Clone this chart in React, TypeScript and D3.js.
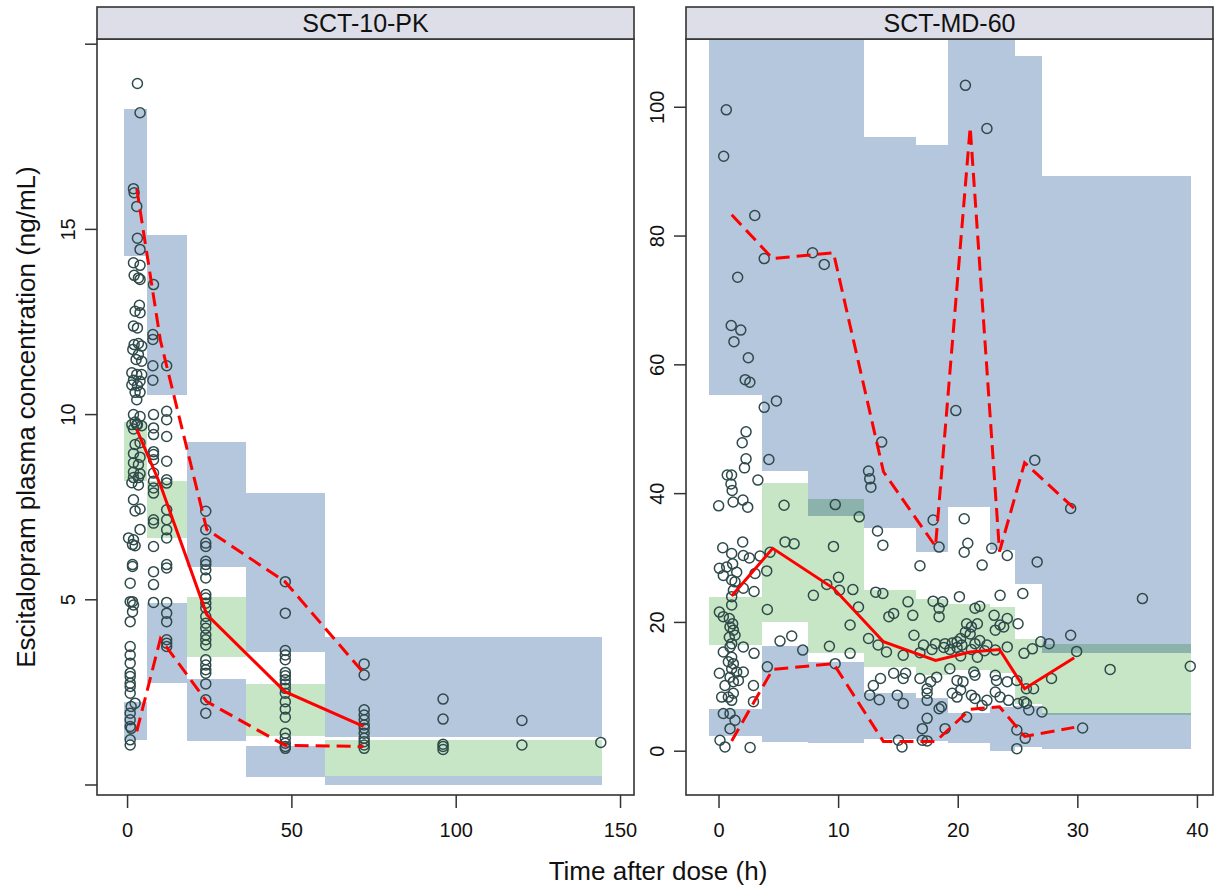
import React from 'react'
import * as d3 from 'd3'

type Pt = [number, number]

// ---------- SCT-10-PK : observations [time (h), conc (ng/mL)] ----------
const obsPK: Pt[] = [
  [3.0, 18.94], [3.8, 18.15], [1.8, 16.1], [2.0, 15.99], [2.8, 15.62], [3.0, 14.76], [3.8, 14.46],
  [1.8, 14.1], [3.8, 14.03], [2.0, 13.76], [3.3, 13.69], [3.8, 13.65], [3.6, 12.95], [2.3, 12.79],
  [3.8, 12.75], [1.8, 12.39], [3.0, 12.34], [2.0, 11.89], [3.3, 11.92], [4.3, 11.85], [1.6, 11.76],
  [3.3, 11.62], [2.6, 11.49], [4.3, 11.44], [1.3, 11.13], [2.8, 11.08], [4.3, 11.08], [1.8, 10.93],
  [3.8, 10.9], [1.3, 10.8], [3.0, 10.78], [2.3, 10.6], [3.8, 10.6], [2.8, 10.4], [1.8, 10.0],
  [3.8, 9.95], [2.3, 9.8], [3.0, 9.73], [1.3, 9.73], [2.8, 9.73], [4.3, 9.7], [1.8, 9.61],
  [2.3, 9.19], [3.8, 9.24], [1.8, 8.95], [3.8, 8.85], [1.8, 8.7], [3.3, 8.65], [1.8, 8.45],
  [3.8, 8.4], [1.8, 8.3], [3.3, 8.3], [1.3, 8.16], [3.3, 8.1], [1.8, 7.7], [3.8, 7.45], [2.3, 7.4],
  [3.8, 6.9], [0.3, 6.67], [1.8, 6.62], [1.5, 6.49], [2.3, 6.46], [1.5, 5.95], [1.5, 5.9], [0.8, 5.45],
  [0.8, 4.95], [1.5, 4.95], [1.8, 4.86], [1.5, 4.68], [0.8, 4.41],
  [0.8, 3.74], [0.8, 3.51], [0.8, 3.29], [0.8, 3.02], [0.8, 2.93], [0.8, 2.75], [0.8, 2.66],
  [0.8, 2.48], [2.3, 2.21], [1.1, 2.12], [0.8, 1.94], [0.8, 1.76], [0.8, 1.58], [1.1, 1.53],
  [0.8, 1.22], [0.8, 1.08],
  [7.9, 13.51], [7.7, 12.16], [7.7, 12.03], [7.7, 11.32], [11.9, 11.32], [7.7, 10.93], [7.9, 10.0],
  [11.9, 10.09], [11.9, 9.86],
  [7.9, 9.64], [7.9, 9.46], [7.9, 9.0], [7.9, 8.92], [7.9, 8.78], [7.9, 8.42], [7.9, 8.2], [7.9, 8.02],
  [7.9, 7.88], [7.9, 7.16], [7.9, 7.07], [7.9, 6.44], [7.9, 5.76], [7.9, 5.41], [7.9, 4.93],
  [11.9, 9.41], [11.9, 8.74], [11.9, 8.24], [11.9, 8.15], [11.9, 7.43], [11.9, 7.16], [11.9, 6.89],
  [11.9, 6.67], [11.9, 5.95], [11.9, 5.86], [11.9, 4.93], [11.9, 4.64], [11.9, 4.41], [11.9, 3.92],
  [11.9, 3.83], [11.9, 3.74],
  [23.8, 7.39], [23.8, 6.89], [23.8, 6.53], [23.8, 6.44], [23.8, 6.04], [23.8, 5.95], [23.8, 5.81],
  [23.8, 5.59], [23.8, 5.14], [23.8, 5.05], [23.8, 4.91], [23.8, 4.78], [23.8, 4.55], [23.8, 4.37],
  [23.8, 4.23], [23.8, 4.05], [23.8, 3.92], [23.8, 3.78], [23.8, 3.38], [23.8, 3.24], [23.8, 3.11],
  [23.8, 3.02], [23.8, 2.73], [23.8, 2.3], [23.8, 1.94],
  [48, 5.49], [48, 4.64], [48, 3.63], [48, 3.51], [48, 3.38], [48, 3.04], [48, 2.95], [48, 2.84],
  [48, 2.73], [48, 2.61], [48, 2.48], [48, 2.25], [48, 2.05], [48, 1.83], [48, 1.4], [48, 1.26],
  [48, 1.13], [48, 1.04], [48, 0.99],
  [72, 3.27], [72, 2.97], [72, 2.03], [72, 1.89], [72, 1.76], [72, 1.62], [72, 1.53], [72, 1.4],
  [72, 1.26], [72, 1.17], [72, 1.08], [72, 0.99],
  [96, 2.32], [96, 1.78], [96, 1.1], [96, 1.04], [96, 0.96],
  [120, 1.74], [120, 1.08],
  [144, 1.15],
]
const binLoPK = [-1.06, 5.84, 18.0, 36.0, 60.1]
const binHiPK = [5.84, 18.0, 36.0, 60.1, 144.4]
const piHiPK: Pt[] = [[14.28, 18.24], [10.52, 14.84], [5.88, 9.25], [3.59, 7.87], [1.29, 4.0]]
const piMedPK: Pt[] = [[8.2, 9.79], [6.67, 8.22], [3.45, 5.07], [1.31, 2.72], [0.24, 1.22]]
const piLoPK: Pt[] = [[1.22, 2.25], [2.75, 4.91], [1.2, 2.87], [0.21, 1.06], [0.0, 0.24]]
const timePK = [2.8, 10, 24.1, 47.9, 71.8]
const p95PK = [16.1, 12.0, 6.9, 5.49, 3.03]
const p50PK = [9.6, 8.1, 4.6, 2.52, 1.58]
const p05PK = [1.45, 3.95, 2.25, 1.07, 1.04]
const xTicksPK = [0, 50, 100, 150]
const yTicksPK = [0, 5, 10, 15, 20]
const yLabelsPK = ['', '5', '10', '15', '']

// ---------- SCT-MD-60 ----------
const obsMD: Pt[] = [
  [0.61, 99.6], [0.39, 92.4], [2.99, 83.2], [3.78, 76.5], [1.56, 73.6], [7.82, 77.4], [8.8, 75.6],
  [20.6, 103.4], [22.4, 96.7],
  [1.02, 66.1], [1.82, 65.4], [1.25, 63.6], [2.45, 61.1], [2.19, 57.7], [2.58, 57.3], [3.78, 53.4],
  [4.8, 54.4], [19.8, 52.9], [2.26, 49.6], [1.94, 47.9], [13.6, 48.0], [2.26, 45.4], [4.17, 45.3],
  [2.13, 44.0], [26.4, 45.2], [0.69, 42.9], [1.05, 42.9], [3.25, 42.1], [12.5, 43.5], [12.6, 42.3],
  [12.7, 41.0], [1.0, 41.5], [1.1, 40.5], [-0.03, 38.1], [1.18, 38.7], [2.0, 39.0], [2.4, 37.9],
  [5.44, 38.2], [9.72, 38.3], [11.72, 36.4], [29.4, 37.7], [17.9, 35.9], [20.5, 36.1], [13.25, 34.2],
  [0.31, 31.6], [1.98, 32.5], [1.06, 30.7], [2.03, 30.4], [2.54, 30.0], [3.43, 30.3], [4.27, 30.9],
  [5.52, 32.5], [6.28, 32.2], [9.57, 31.8],
  [0.03, 28.4], [0.64, 28.6], [1.14, 29.1], [1.48, 27.8], [0.36, 27.3], [1.06, 26.6], [1.34, 26.3],
  [1.2, 25.0], [2.03, 25.3], [2.93, 24.8], [3.99, 28.0], [3.01, 27.6],
  [1.06, 24.0], [1.06, 22.7], [0.03, 21.6], [0.36, 20.9], [0.86, 20.6], [1.14, 19.8], [0.92, 19.3],
  [1.2, 18.8], [0.86, 17.7], [1.34, 18.0], [1.06, 16.7], [0.92, 16.2], [0.36, 15.4], [2.03, 16.2],
  [2.93, 15.2], [1.06, 14.6], [0.78, 13.9], [1.2, 13.6], [0.03, 12.1], [1.06, 12.8], [1.48, 12.3],
  [2.03, 12.3], [0.92, 11.5], [1.2, 10.8], [1.62, 11.0], [0.5, 10.2], [0.22, 8.4], [0.78, 8.4],
  [1.06, 7.9], [1.2, 9.0], [2.88, 10.2], [2.88, 7.7], [0.36, 5.85], [0.92, 5.85], [1.34, 4.8],
  [0.92, 3.5], [0.08, 1.7], [0.5, 0.67], [2.6, 0.57],
  [4.04, 22.0], [4.04, 13.1], [5.1, 17.1], [6.08, 17.9], [7.0, 15.7], [7.89, 24.2], [9.01, 25.9],
  [9.99, 27.0], [10.07, 25.0], [11.19, 25.1], [11.66, 22.4], [10.96, 19.6], [9.23, 16.3],
  [10.96, 15.2], [9.71, 13.6],
  [13.7, 32.0], [18.4, 31.7], [20.8, 32.3], [20.5, 30.9], [22.8, 31.5], [24.1, 30.4], [26.6, 29.4],
  [16.8, 28.8], [22.0, 28.9],
  [13.1, 24.7], [13.7, 24.5], [15.8, 23.2], [17.9, 23.3], [18.7, 23.2], [20.1, 24.0], [23.5, 24.2],
  [25.4, 24.5],
  [14.2, 20.9], [14.6, 21.4], [16.2, 21.1], [18.4, 22.2], [18.4, 20.9], [21.4, 22.2], [21.8, 22.5],
  [23.0, 21.1], [24.1, 20.6], [25.0, 19.8], [23.5, 19.6], [23.8, 19.3], [20.7, 19.8], [21.1, 19.3],
  [21.6, 19.8], [23.1, 18.8],
  [12.5, 17.5], [13.3, 16.5], [14.0, 15.4], [15.4, 14.9], [16.3, 18.0], [17.1, 16.5], [18.1, 16.7],
  [18.9, 16.7], [19.5, 16.8], [19.9, 17.0], [20.2, 17.5], [20.3, 16.5], [20.6, 18.5], [21.0, 18.2],
  [21.4, 16.7], [21.8, 17.2], [22.4, 16.5], [23.1, 15.7], [24.1, 16.2], [25.5, 15.2], [26.2, 15.9],
  [26.9, 17.0], [27.6, 16.7],
  [16.8, 15.3], [17.8, 15.8], [18.8, 16.1], [19.3, 15.8], [19.9, 16.1], [20.2, 14.8], [21.1, 15.8],
  [21.6, 14.6], [22.2, 15.6],
  [12.9, 10.2], [13.5, 11.3], [14.6, 12.1], [15.4, 11.3], [15.6, 12.1], [16.8, 11.3], [17.4, 9.7],
  [17.7, 10.8], [18.2, 11.5], [19.3, 12.8], [19.9, 11.0], [20.4, 10.8], [21.3, 12.3], [21.4, 11.8],
  [23.1, 11.8], [23.2, 11.0], [24.1, 10.8], [24.9, 11.0], [25.7, 9.7], [26.3, 9.7], [27.8, 11.3],
  [12.6, 8.7], [13.4, 8.0], [14.9, 8.7], [15.4, 7.4], [17.4, 9.0], [17.4, 7.9], [18.4, 6.6],
  [18.6, 6.9], [19.5, 9.0], [19.9, 8.4], [20.2, 9.5], [21.1, 8.7], [21.4, 8.2], [22.0, 7.1],
  [22.4, 7.9], [23.1, 9.2], [23.5, 8.4], [24.2, 7.9], [25.0, 7.4], [25.5, 7.7], [25.7, 7.4],
  [25.9, 6.4], [27.0, 6.1],
  [17.0, 3.5], [17.4, 5.1], [15.0, 1.7], [15.3, 0.67], [17.0, 1.7], [17.4, 1.6], [18.9, 3.5],
  [20.7, 5.3], [24.9, 3.3], [25.6, 2.0], [24.9, 0.4],
  [35.4, 23.7], [29.4, 18.0], [29.9, 15.5], [32.7, 12.7], [39.4, 13.2], [30.4, 3.6],
]
const binLoMD = [-0.82, 3.56, 7.4, 12.14, 16.47, 19.16, 22.62, 24.74, 26.97]
const binHiMD = [3.56, 7.4, 12.14, 16.47, 19.16, 22.62, 24.74, 26.97, 39.45]
const piHiMD: Pt[] = [[55.3, 130], [43.5, 130], [36.6, 130], [34.7, 95.4], [30.9, 94.1], [37.9, 130], [31.2, 130], [25.9, 108.0], [15.3, 89.3]]
const piMedMD: Pt[] = [[16.5, 24.0], [20.0, 41.7], [15.2, 39.2], [13.1, 25.1], [11.8, 23.6], [12.6, 22.9], [12.1, 22.4], [7.4, 17.5], [5.6, 16.6]]
const piLoMD: Pt[] = [[2.4, 6.6], [1.5, 16.3], [1.25, 13.9], [1.9, 9.0], [1.6, 8.2], [1.35, 5.9], [0.1, 6.9], [0.7, 7.0], [0.35, 5.95]]
const timeMD = [1.06, 4.49, 9.57, 13.75, 18.1, 21.0, 23.45, 25.55, 29.7]
const p95MD = [83.3, 76.5, 77.4, 43.4, 31.8, 96.9, 31.0, 44.8, 37.7]
const p50MD = [24.1, 31.5, 25.3, 17.0, 14.1, 15.4, 15.8, 9.7, 14.5]
const p05MD = [1.6, 12.7, 13.6, 1.5, 1.5, 6.5, 6.9, 2.3, 3.7]
const xTicksMD = [0, 10, 20, 30, 40]
const yTicksMD = [0, 20, 40, 60, 80, 100]
const yLabelsMD = ['0', '20', '40', '60', '80', '100']

const TOP = 39
const BOTTOM = 795
const STRIP_TOP = 7
const FONT = '"Liberation Sans", Arial, Helvetica, sans-serif'
const BLUE = '#b5c7dd'
const GREEN = '#c6e6c6'
const INK = '#2e4a4a'
const RED = '#ff0000'
const FRAME = '#333333'

function Panel(props: any) {
  const { id, title, left, right, xDomain, yDomain, xTicks, yTicks, yLabels, yLabelX,
    obs, binLo, binHi, piHi, piMed, piLo, times, p95, p50, p05 } = props
  const x = d3.scaleLinear().domain(xDomain).range([left, right])
  const y = d3.scaleLinear().domain(yDomain).range([BOTTOM, TOP])
  const line = d3.line<number>().x((_, i) => x(times[i])).y(d => y(d))

  // crisp edges so adjacent bins join without seams
  const band = (rows: Pt[], fill: string, blend = false) =>
    rows.map(([lo, hi], i) => (
      <rect key={i} x={x(binLo[i])} width={x(binHi[i]) - x(binLo[i])}
        y={y(hi)} height={y(lo) - y(hi)} fill={fill} shapeRendering="crispEdges"
        style={blend ? { mixBlendMode: 'multiply' } : undefined} />
    ))

  return (
    <g>
      <defs>
        <clipPath id={id}>
          <rect x={left} y={TOP} width={right - left} height={BOTTOM - TOP} />
        </clipPath>
      </defs>
      <g clipPath={`url(#${id})`}>
        {band(piHi, BLUE)}
        {band(piLo, BLUE)}
        {band(piMed, GREEN, true)}
        {obs.map((d: Pt, i: number) => (
          <circle key={i} cx={x(d[0])} cy={y(d[1])} r={5} fill="none" stroke={INK} strokeWidth={1.5} />
        ))}
        <path d={line(p50) || ''} fill="none" stroke={RED} strokeWidth={3} />
        <path d={line(p95) || ''} fill="none" stroke={RED} strokeWidth={3} strokeDasharray="14 7" />
        <path d={line(p05) || ''} fill="none" stroke={RED} strokeWidth={3} strokeDasharray="14 7" />
      </g>
      <rect x={left} y={TOP} width={right - left} height={BOTTOM - TOP} fill="none" stroke={FRAME} strokeWidth={1.6} />
      <rect x={left} y={STRIP_TOP} width={right - left} height={TOP - STRIP_TOP} fill="#dedee8" stroke={FRAME} strokeWidth={1.6} />
      <text x={(left + right) / 2} y={TOP - 7} textAnchor="middle" fontSize={25} fontFamily={FONT} fill="#111">{title}</text>
      {xTicks.map((t: number) => (
        <g key={t}>
          <line x1={x(t)} x2={x(t)} y1={BOTTOM} y2={BOTTOM + 13} stroke={FRAME} strokeWidth={1.5} />
          <text x={x(t)} y={BOTTOM + 42} textAnchor="middle" fontSize={20} fontFamily={FONT} fill="#111">{t}</text>
        </g>
      ))}
      {yTicks.map((t: number, i: number) => (
        <g key={t}>
          <line x1={left - 12} x2={left} y1={y(t)} y2={y(t)} stroke={FRAME} strokeWidth={1.5} />
          <text transform={`translate(${yLabelX},${y(t)}) rotate(-90)`} textAnchor="middle"
            fontSize={20} fontFamily={FONT} fill="#111">{yLabels[i]}</text>
        </g>
      ))}
    </g>
  )
}

export default function App() {
  return (
    <svg width={1215} height={886} style={{ position: 'absolute', left: 0, top: 0, background: '#fff' }}>
      <rect width={1215} height={886} fill="#fff" />
      <Panel id="clipPK" title="SCT-10-PK" left={97} right={634}
        xDomain={[-9.3, 154.1]} yDomain={[-0.27, 20.14]}
        xTicks={xTicksPK} yTicks={yTicksPK} yLabels={yLabelsPK} yLabelX={75}
        obs={obsPK} binLo={binLoPK} binHi={binHiPK} piHi={piHiPK} piMed={piMedPK} piLo={piLoPK}
        times={timePK} p95={p95PK} p50={p50PK} p05={p05PK} />
      <Panel id="clipMD" title="SCT-MD-60" left={686} right={1213}
        xDomain={[-2.76, 41.3]} yDomain={[-6.8, 110.6]}
        xTicks={xTicksMD} yTicks={yTicksMD} yLabels={yLabelsMD} yLabelX={664}
        obs={obsMD} binLo={binLoMD} binHi={binHiMD} piHi={piHiMD} piMed={piMedMD} piLo={piLoMD}
        times={timeMD} p95={p95MD} p50={p50MD} p05={p05MD} />
      <text x={658} y={880} textAnchor="middle" fontSize={26} fontFamily={FONT} fill="#111">Time after dose (h)</text>
      <text transform="translate(35,417) rotate(-90)" textAnchor="middle" fontSize={26} fontFamily={FONT} fill="#111">
        Escitalopram plasma concentration (ng/mL)
      </text>
    </svg>
  )
}
